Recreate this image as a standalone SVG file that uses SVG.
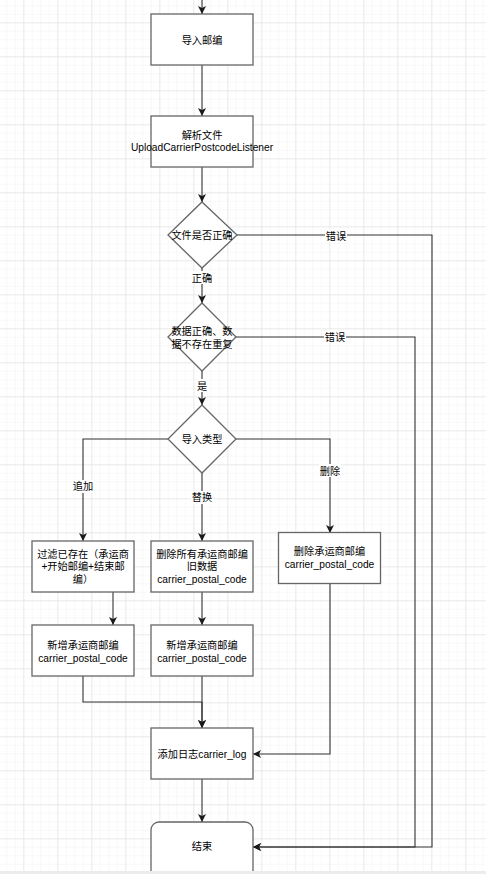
<svg xmlns="http://www.w3.org/2000/svg" width="486" height="874" viewBox="0 0 486 874">
<defs>
<pattern id="minor" patternUnits="userSpaceOnUse" x="6.3" y="5.3" width="8.5" height="8.5">
<path d="M0,0 H8.5 M0,0 V8.5" fill="none" stroke="#f1f1f1" stroke-width="1"/>
</pattern>
<pattern id="major" patternUnits="userSpaceOnUse" x="23.3" y="22.3" width="34" height="34">
<path d="M0,0 H34 M0,0 V34" fill="none" stroke="#dedede" stroke-width="1"/>
</pattern>
<marker id="arr" markerUnits="userSpaceOnUse" markerWidth="10" markerHeight="10" viewBox="0 0 10 10" refX="9" refY="5" orient="auto">
<path d="M1,1 L9,5 L1,9 L3,5 z" fill="#1a1a1a"/>
</marker>
</defs>
<style>
.box{fill:#ffffff;stroke:#666666;stroke-width:1.3}
.ln{fill:none;stroke:#333333;stroke-width:1.1}
.t{font-family:"Liberation Sans","Noto Sans CJK SC",sans-serif;font-size:10.2px;fill:#000000;text-anchor:middle}
.lbg{fill:#ffffff}
</style>
<rect x="0" y="0" width="486" height="874" fill="#ffffff"/>
<rect x="0" y="0" width="486" height="874" fill="url(#minor)"/>
<rect x="0" y="0" width="486" height="874" fill="url(#major)"/>

<g id="connectors">
<path class="ln" d="M202,0 V14" marker-end="url(#arr)"/>
<path class="ln" d="M202,65 V116" marker-end="url(#arr)"/>
<path class="ln" d="M202,167 V202" marker-end="url(#arr)"/>
<path class="ln" d="M202,268 V303" marker-end="url(#arr)"/>
<path class="ln" d="M202,371 V405" marker-end="url(#arr)"/>
<path class="ln" d="M237,235 H432 V847 H253" marker-end="url(#arr)"/>
<path class="ln" d="M236,337 H415 V847 H253" marker-end="url(#arr)"/>
<path class="ln" d="M168,439 H83 V541" marker-end="url(#arr)"/>
<path class="ln" d="M202,473 V541" marker-end="url(#arr)"/>
<path class="ln" d="M236,439 H330 V533" marker-end="url(#arr)"/>
<path class="ln" d="M113,592 V625" marker-end="url(#arr)"/>
<path class="ln" d="M202,592 V625" marker-end="url(#arr)"/>
<path class="ln" d="M83,676 V702 H202 V728" marker-end="url(#arr)"/>
<path class="ln" d="M202,676 V728" marker-end="url(#arr)"/>
<path class="ln" d="M330,584 V754 H253" marker-end="url(#arr)"/>
<path class="ln" d="M202,779 V822" marker-end="url(#arr)"/>
<rect class="lbg" x="325" y="229" width="22" height="13"/>
<text class="t" x="336" y="239.7">错误</text>
<rect class="lbg" x="191" y="271" width="22" height="13"/>
<text class="t" x="202" y="281.7">正确</text>
<rect class="lbg" x="324" y="330" width="22" height="13"/>
<text class="t" x="335" y="340.7">错误</text>
<rect class="lbg" x="196" y="379" width="12" height="13"/>
<text class="t" x="202" y="389.7">是</text>
<rect class="lbg" x="72" y="480" width="22" height="13"/>
<text class="t" x="83" y="490.4">追加</text>
<rect class="lbg" x="191" y="491" width="22" height="13"/>
<text class="t" x="202" y="501.4">替换</text>
<rect class="lbg" x="319" y="464" width="22" height="13"/>
<text class="t" x="330" y="474.7">删除</text>
</g>

<g id="import">
<rect class="box" x="151" y="14" width="102" height="51"/>
<text class="t" x="202" y="43.7">导入邮编</text>
</g>
<g id="parse">
<rect class="box" x="151" y="116" width="102" height="51"/>
<text class="t" x="202" y="138.7">解析文件</text>
<text class="t" x="202" y="151.4">UploadCarrierPostcodeListener</text>
</g>
<g id="check-file">
<path class="box" d="M202,202 L237,235 L202,268 L168,235 Z"/>
<text class="t" x="202" y="238.7">文件是否正确</text>
</g>
<g id="check-data">
<path class="box" d="M202,303 L236,337 L202,371 L168,337 Z"/>
<text class="t" x="202" y="334.7">数据正确、数</text>
<text class="t" x="202" y="347.7">据不存在重复</text>
</g>
<g id="import-type">
<path class="box" d="M202,405 L236,439 L202,473 L168,439 Z"/>
<text class="t" x="202" y="442.7">导入类型</text>
</g>
<g id="filter">
<rect class="box" x="32" y="541" width="102" height="51"/>
<text class="t" x="83" y="558.4">过滤已存在（承运商</text>
<text class="t" x="83" y="570.4">+开始邮编+结束邮</text>
<text class="t" x="83" y="583">编）</text>
</g>
<g id="delete-all">
<rect class="box" x="151" y="541" width="102" height="51"/>
<text class="t" x="202" y="558">删除所有承运商邮编</text>
<text class="t" x="202" y="570.4">旧数据</text>
<text class="t" x="202" y="582.7">carrier_postal_code</text>
</g>
<g id="delete">
<rect class="box" x="278.5" y="532.5" width="102" height="51"/>
<text class="t" x="329.5" y="555.4">删除承运商邮编</text>
<text class="t" x="329.5" y="568">carrier_postal_code</text>
</g>
<g id="add-left">
<rect class="box" x="32" y="625" width="102" height="51"/>
<text class="t" x="83" y="648.7">新增承运商邮编</text>
<text class="t" x="83" y="662">carrier_postal_code</text>
</g>
<g id="add-mid">
<rect class="box" x="151" y="625" width="102" height="51"/>
<text class="t" x="202" y="648.7">新增承运商邮编</text>
<text class="t" x="202" y="662">carrier_postal_code</text>
</g>
<g id="log">
<rect class="box" x="151" y="728" width="102" height="51"/>
<text class="t" x="202" y="757.7">添加日志carrier_log</text>
</g>
<g id="end">
<rect class="box" x="151" y="822" width="102" height="60" rx="8" ry="8"/>
<text class="t" x="202" y="850.4">结束</text>
</g>
<rect x="0" y="871" width="486" height="3" fill="#ececec"/>
</svg>
